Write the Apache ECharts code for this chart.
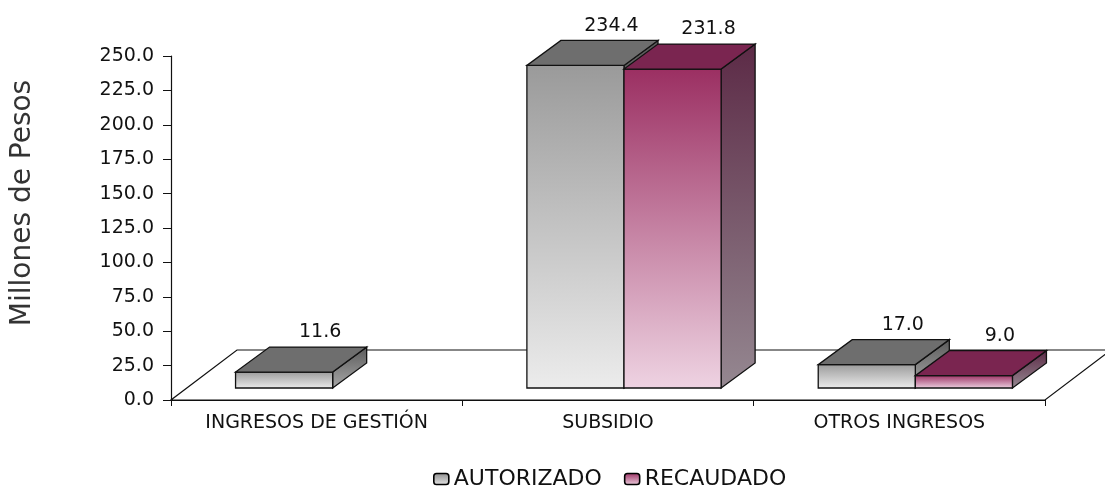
<!DOCTYPE html>
<html>
<head>
<meta charset="utf-8">
<script src="https://cdn.jsdelivr.net/npm/echarts@6/dist/echarts.min.js"></script>
<style>
html,body{margin:0;padding:0;background:#fff;}
#chart{width:1105px;height:490px;}
</style>
</head>
<body>
<div id="chart"></div>
<script>
// ---- data ----
const categories = ['INGRESOS DE GESTIÓN', 'SUBSIDIO', 'OTROS INGRESOS'];
const seriesNames = ['AUTORIZADO', 'RECAUDADO'];
const autorizado = [11.6, 234.4, 17.0];
const recaudado = [null, 231.8, 9.0];
const yMin = 0, yMax = 250, yStep = 25;
const yTitle = 'Millones de Pesos';

// ---- styling ----
const FONT = 'DejaVu Sans';
const TXT = '#111';
const DX = 34, DY = -25;      // bar depth
const OX = 16, OY = -12;      // bar offset into floor
const FX = 66, FY = -50;      // floor depth
const lg = (a, b) => new echarts.graphic.LinearGradient(0, 0, 0, 1, [{offset: 0, color: a}, {offset: 1, color: b}]);
const palettes = [
  {front: ['#9a9a9a', '#ececec'], top: '#6e6e6e', side: ['#5a5a5a', '#a8a8a8'], legend: ['#8c8c8c', '#e6e6e6']},
  {front: ['#9b2f62', '#eed3e2'], top: '#7a2550', side: ['#5c2a46', '#958891'], legend: ['#9b2f62', '#ecd0df']}
];

function barRender(k) {
  const p = palettes[k];
  return function (params, api) {
    const v = api.value(1);
    if (v === null || v === undefined || isNaN(v)) return;
    const c = api.value(0);
    const band = api.size([1, 0])[0];
    const w = band / 3;
    const base = api.coord([c, 0]);
    const top = api.coord([c, v]);
    const x0 = base[0] - w + k * w + OX;
    const yb = base[1] + OY;
    const yt = top[1] + OY;
    const stroke = {stroke: '#111', lineWidth: 1.3};
    return {
      type: 'group',
      children: [
        {type: 'polygon', shape: {points: [[x0 + w, yt], [x0 + w + DX, yt + DY], [x0 + w + DX, yb + DY], [x0 + w, yb]]},
          style: Object.assign({fill: lg(p.side[0], p.side[1])}, stroke)},
        {type: 'rect', shape: {x: x0, y: yt, width: w, height: yb - yt},
          style: Object.assign({fill: lg(p.front[0], p.front[1])}, stroke)},
        {type: 'polygon', shape: {points: [[x0, yt], [x0 + w, yt], [x0 + w + DX, yt + DY], [x0 + DX, yt + DY]]},
          style: Object.assign({fill: p.top}, stroke)},
        {type: 'text', x: x0 + w / 2 + DX + 2, y: yt + DY - 5,
          style: {text: v.toFixed(1), font: '19px "' + FONT + '"', fill: TXT, align: 'center', verticalAlign: 'bottom'}}
      ]
    };
  };
}

function floorRender(params, api) {
  const cs = params.coordSys;
  const x = cs.x, y = cs.y + cs.height, w = cs.width;
  return {
    type: 'polygon',
    shape: {points: [[x, y], [x + w, y], [x + w + FX, y + FY], [x + FX, y + FY]]},
    style: {fill: '#fff', stroke: '#111', lineWidth: 1.2}
  };
}

const chart = echarts.init(document.getElementById('chart'), null, {renderer: 'canvas'});
chart.setOption({
  animation: false,
  backgroundColor: '#fff',
  textStyle: {fontFamily: FONT},
  grid: {left: 171, right: 60, top: 56, bottom: 90},
  legend: {
    data: seriesNames,
    left: 433, top: 468, padding: 0,
    itemWidth: 15, itemHeight: 11, itemGap: 22,
    textStyle: {fontSize: 22, color: TXT, fontFamily: FONT},
    itemStyle: {borderColor: '#000', borderWidth: 1.6}
  },
  graphic: [{
    type: 'text', x: 23, y: 203, rotation: Math.PI / 2,
    style: {text: yTitle, font: '28px "' + FONT + '"', fill: '#333', align: 'center', verticalAlign: 'middle'}
  }],
  xAxis: {
    type: 'category', data: categories,
    axisLine: {lineStyle: {color: '#111', width: 1.2}},
    axisTick: {show: true, length: 6, lineStyle: {color: '#111'}},
    axisLabel: {fontSize: 19, color: TXT, margin: 14, fontFamily: FONT}
  },
  yAxis: {
    type: 'value', min: yMin, max: yMax, interval: yStep,
    splitLine: {show: false},
    axisLine: {show: true, lineStyle: {color: '#111', width: 1.2}},
    axisTick: {show: true, length: 8, lineStyle: {color: '#111'}},
    axisLabel: {fontSize: 19, color: TXT, margin: 17, fontFamily: FONT, formatter: v => v.toFixed(1)}
  },
  series: [
    {type: 'custom', name: 'floor', renderItem: floorRender, data: [[0, 0]], z: 1, silent: true},
    {type: 'custom', name: seriesNames[0], renderItem: barRender(0), z: 3,
      data: autorizado.map((v, i) => [i, v]),
      itemStyle: {color: lg(palettes[0].legend[0], palettes[0].legend[1]), borderColor: '#000', borderWidth: 1.6}},
    {type: 'custom', name: seriesNames[1], renderItem: barRender(1), z: 4,
      data: recaudado.map((v, i) => [i, v === null ? '-' : v]),
      itemStyle: {color: lg(palettes[1].legend[0], palettes[1].legend[1]), borderColor: '#000', borderWidth: 1.6}}
  ]
});
</script>
</body>
</html>
